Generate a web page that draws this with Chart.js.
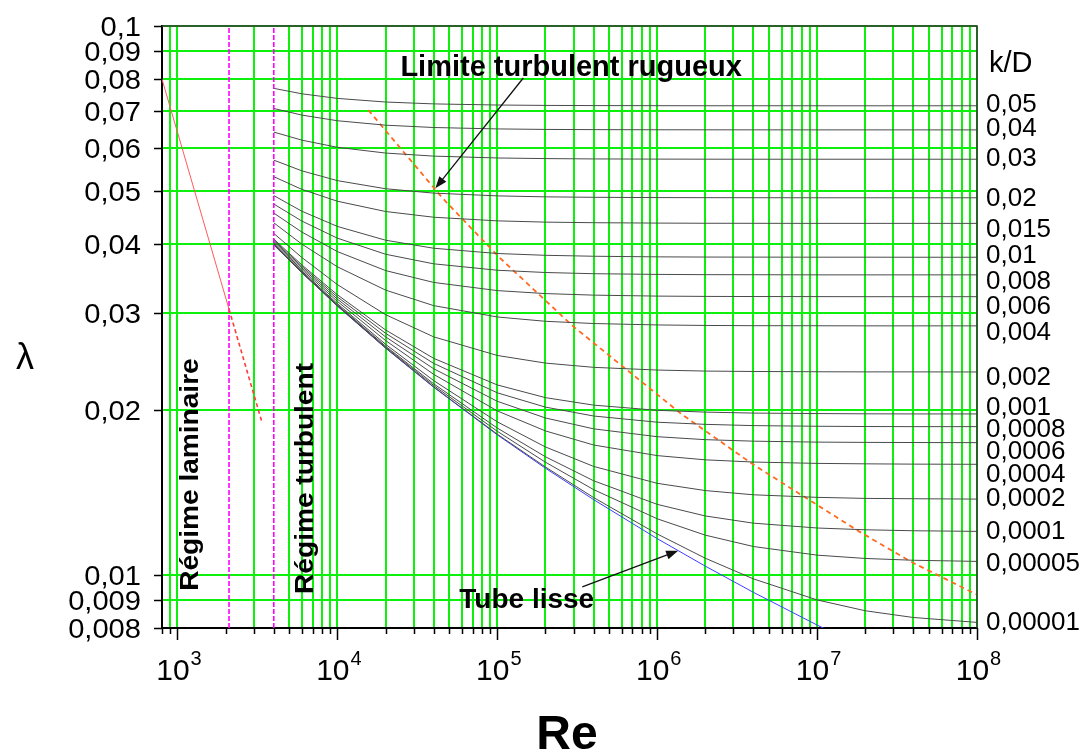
<!DOCTYPE html>
<html>
<head>
<meta charset="utf-8">
<script src="https://cdn.jsdelivr.net/npm/chart.js@4/dist/chart.umd.min.js"></script>
<style>
  html, body { margin: 0; padding: 0; background: #fff; }
  canvas { display: block; }
</style>
</head>
<body>
<canvas id="moodyChart" width="1080" height="754"></canvas>
<script>
// Reynolds numbers where the turbulent curves were read
const reValues = [4000, 6000, 1e4, 2e4, 4e4, 1e5, 2e5, 4e5, 1e6, 2e6, 4e6, 1e7, 2e7, 4e7, 1e8];

// relative roughness of each curve (right hand labels)
const kdValues = [0.05, 0.04, 0.03, 0.02, 0.015, 0.01, 0.008, 0.006, 0.004, 0.002,
                  0.001, 0.0008, 0.0006, 0.0004, 0.0002, 0.0001, 0.00005, 0.00001];

// friction factor (same order as reValues)
const lambdaKd05    = [0.07698, 0.07524, 0.07380, 0.07269, 0.07212, 0.07178, 0.07167, 0.07161, 0.07158, 0.07156, 0.07156, 0.07155, 0.07155, 0.07155, 0.07155];
const lambdaKd04    = [0.07075, 0.06881, 0.06720, 0.06596, 0.06532, 0.06493, 0.06480, 0.06474, 0.06470, 0.06469, 0.06468, 0.06467, 0.06467, 0.06467, 0.06467];
const lambdaKd03    = [0.06408, 0.06194, 0.06011, 0.05868, 0.05793, 0.05748, 0.05733, 0.05725, 0.05721, 0.05719, 0.05718, 0.05718, 0.05718, 0.05718, 0.05718];
const lambdaKd02    = [0.05696, 0.05446, 0.05227, 0.05052, 0.04960, 0.04903, 0.04883, 0.04874, 0.04868, 0.04866, 0.04865, 0.04864, 0.04864, 0.04864, 0.04864];
const lambdaKd015   = [0.05314, 0.05038, 0.04794, 0.04592, 0.04483, 0.04415, 0.04392, 0.04381, 0.04374, 0.04371, 0.04370, 0.04369, 0.04369, 0.04369, 0.04369];
const lambdaKd01    = [0.04909, 0.04597, 0.04313, 0.04071, 0.03936, 0.03850, 0.03821, 0.03806, 0.03796, 0.03793, 0.03792, 0.03791, 0.03791, 0.03790, 0.03790];
const lambdaKd008   = [0.04738, 0.04411, 0.04106, 0.03838, 0.03687, 0.03589, 0.03555, 0.03537, 0.03527, 0.03523, 0.03522, 0.03520, 0.03520, 0.03520, 0.03520];
const lambdaKd006   = [0.04561, 0.04212, 0.03881, 0.03584, 0.03410, 0.03295, 0.03254, 0.03233, 0.03220, 0.03216, 0.03214, 0.03213, 0.03212, 0.03212, 0.03212];
const lambdaKd004   = [0.04379, 0.04004, 0.03641, 0.03302, 0.03094, 0.02950, 0.02897, 0.02870, 0.02853, 0.02847, 0.02844, 0.02843, 0.02842, 0.02842, 0.02842];
const lambdaKd002   = [0.04189, 0.03785, 0.03379, 0.02979, 0.02714, 0.02510, 0.02431, 0.02388, 0.02361, 0.02351, 0.02347, 0.02344, 0.02343, 0.02343, 0.02342];
const lambdaKd001   = [0.04091, 0.03669, 0.03238, 0.02794, 0.02480, 0.02218, 0.02103, 0.02038, 0.01994, 0.01979, 0.01971, 0.01967, 0.01965, 0.01964, 0.01964];
const lambdaKd0008  = [0.04071, 0.03646, 0.03209, 0.02755, 0.02428, 0.02146, 0.02021, 0.01947, 0.01897, 0.01880, 0.01870, 0.01865, 0.01863, 0.01862, 0.01862];
const lambdaKd0006  = [0.04052, 0.03623, 0.03179, 0.02714, 0.02374, 0.02071, 0.01931, 0.01845, 0.01785, 0.01763, 0.01752, 0.01745, 0.01743, 0.01742, 0.01741];
const lambdaKd0004  = [0.04031, 0.03598, 0.03149, 0.02673, 0.02319, 0.01989, 0.01829, 0.01724, 0.01649, 0.01620, 0.01605, 0.01596, 0.01593, 0.01591, 0.01590];
const lambdaKd0002  = [0.04011, 0.03575, 0.03119, 0.02631, 0.02259, 0.01900, 0.01710, 0.01576, 0.01468, 0.01424, 0.01399, 0.01384, 0.01378, 0.01376, 0.01374];
const lambdaKd0001  = [0.04001, 0.03562, 0.03104, 0.02610, 0.02229, 0.01851, 0.01641, 0.01484, 0.01344, 0.01280, 0.01242, 0.01217, 0.01208, 0.01203, 0.01200];
const lambdaKd00005 = [0.03997, 0.03556, 0.03096, 0.02599, 0.02213, 0.01826, 0.01604, 0.01430, 0.01265, 0.01181, 0.01126, 0.01086, 0.01071, 0.01063, 0.01058];
const lambdaKd00001 = [0.03992, 0.03552, 0.03090, 0.02591, 0.02200, 0.01804, 0.01572, 0.01383, 0.01187, 0.01072, 0.00983, 0.00900, 0.00860, 0.00836, 0.00819];
const lambdaSmooth  = [0.03991, 0.03551, 0.03088, 0.02589, 0.02197, 0.01799, 0.01564, 0.01371, 0.01164, 0.01037, 0.00929, 0.00810, 0.00734, 0.00669, 0.00594];

const kdCurves = [lambdaKd05, lambdaKd04, lambdaKd03, lambdaKd02, lambdaKd015, lambdaKd01,
                  lambdaKd008, lambdaKd006, lambdaKd004, lambdaKd002, lambdaKd001, lambdaKd0008,
                  lambdaKd0006, lambdaKd0004, lambdaKd0002, lambdaKd0001, lambdaKd00005, lambdaKd00001];

// laminar flow, lambda = 64/Re (solid part then dashed continuation)
const laminarRe = [800, 2100];
const laminarLambda = [0.08, 0.03048];
const laminarDashRe = [2100, 3350];
const laminarDashLambda = [0.03048, 0.0191];

// regime boundaries (vertical magenta lines)
const criticalRe = [2100, 4000];

// "limite turbulent rugueux" dashed line
const limitRe = [15600, 45343, 102733, 296595, 1427000, 3965000, 18265000, 38952000, 1e8];
const limitLambda = [0.0703, 0.0486, 0.0379, 0.0284, 0.0196, 0.0159, 0.0120, 0.01055, 0.0092];

// axes
const reMin = 800, reMax = 1e8;
const lambdaMin = 0.008, lambdaMax = 0.1;
const lambdaTicks = [0.1, 0.09, 0.08, 0.07, 0.06, 0.05, 0.04, 0.03, 0.02, 0.01, 0.009, 0.008];
const reDecades = [1e3, 1e4, 1e5, 1e6, 1e7, 1e8];
const reHiddenGrid = [2000, 4000];

// small vertical nudges (px) so the k/D labels do not collide
const kdLabelNudge = [-3.5, -3.5, -3, -1.5, 4, -4, 4.5, 8, 4.5, 3.5, -8, 1, 7, 8, -2, -2, 0, -1.5];

// annotations, anchored in data units
const limitArrow = { from: [145400, 0.0804], to: [40980, 0.0506] };
const smoothArrow = { from: [340000, 0.00951], to: [1352000, 0.01106] };
const limitText = { re: 24770, lambda: 0.0811 };
const smoothText = { re: 57870, lambda: 0.0087 };
const laminarText = { re: 1334, lambda: 0.00935 };
const turbulentText = { re: 7079, lambda: 0.00923 };

// minor + major Re grid positions
const reGrid = [];
for (let e = 2; e <= 8; e++) {
    for (let m = 1; m <= 9; m++) {
        const v = m * Math.pow(10, e);
        if (v >= reMin - 1 && v <= reMax + 1) reGrid.push(Math.round(v));
    }
}

const GREEN = '#0cf00c';
const FONT = "'Liberation Sans', Arial, Helvetica, sans-serif";

function toPoints(xs, ys) {
    return xs.map((v, i) => ({ x: v, y: ys[i] }));
}

function line(data, color, width, dash) {
    return {
        data: data,
        showLine: true,
        borderColor: color,
        borderWidth: width,
        borderDash: dash || [],
        pointRadius: 0,
        fill: false,
        tension: 0
    };
}

const datasets = [];
datasets.push(line(toPoints(laminarRe, laminarLambda), '#ff5a5a', 1));
datasets.push(line(toPoints(laminarDashRe, laminarDashLambda), '#ff3c3c', 1.6, [4, 3]));
criticalRe.forEach(r => {
    datasets.push(line([{ x: r, y: lambdaMin }, { x: r, y: lambdaMax }], '#ff00ff', 1.6, [5, 2]));
});
kdCurves.forEach(arr => {
    datasets.push(line(toPoints(reValues, arr), '#4a4a4a', 1));
});
datasets.push(line(toPoints(reValues, lambdaSmooth), '#3c3cff', 1));
datasets.push(line(toPoints(limitRe, limitLambda), '#ff6a20', 1.8, [5, 4]));

function drawText(ctx, str, x, y, opt) {
    ctx.save();
    ctx.translate(x, y);
    if (opt.rot) ctx.rotate(opt.rot);
    ctx.scale(opt.sx || 1, 1);
    ctx.font = (opt.bold ? 'bold ' : '') + opt.size + 'px ' + FONT;
    ctx.textAlign = opt.align || 'left';
    ctx.textBaseline = 'alphabetic';
    ctx.fillStyle = '#000';
    ctx.fillText(str, 0, 0);
    ctx.restore();
}

function drawArrow(ctx, x0, y0, x1, y1) {
    const ang = Math.atan2(y1 - y0, x1 - x0);
    const len = 12, half = 4.5;
    ctx.save();
    ctx.strokeStyle = '#111';
    ctx.fillStyle = '#111';
    ctx.lineWidth = 1.3;
    ctx.beginPath();
    ctx.moveTo(x0, y0);
    ctx.lineTo(x1 - Math.cos(ang) * len * 0.8, y1 - Math.sin(ang) * len * 0.8);
    ctx.stroke();
    ctx.beginPath();
    ctx.moveTo(x1, y1);
    ctx.lineTo(x1 - Math.cos(ang) * len - Math.sin(ang) * half, y1 - Math.sin(ang) * len + Math.cos(ang) * half);
    ctx.lineTo(x1 - Math.cos(ang) * len + Math.sin(ang) * half, y1 - Math.sin(ang) * len - Math.cos(ang) * half);
    ctx.closePath();
    ctx.fill();
    ctx.restore();
}

const moodyDecor = {
    id: 'moodyDecor',
    afterDraw(chart) {
        const ctx = chart.ctx;
        const a = chart.chartArea;
        const x = chart.scales.x;
        const y = chart.scales.y;

        // top and right frame
        ctx.save();
        ctx.strokeStyle = '#333';
        ctx.lineWidth = 1.5;
        ctx.beginPath();
        ctx.moveTo(a.left, a.top);
        ctx.lineTo(a.right, a.top);
        ctx.lineTo(a.right, a.bottom);
        ctx.stroke();

        // tick marks
        ctx.strokeStyle = '#000';
        ctx.lineWidth = 1.5;
        ctx.beginPath();
        lambdaTicks.forEach(v => {
            const py = Math.round(y.getPixelForValue(v)) + 0.5;
            ctx.moveTo(a.left - 8, py);
            ctx.lineTo(a.left, py);
        });
        reGrid.forEach(v => {
            const px = Math.round(x.getPixelForValue(v)) + 0.5;
            const major = reDecades.includes(v);
            ctx.moveTo(px, a.bottom);
            ctx.lineTo(px, a.bottom + (major ? 12 : 6));
        });
        ctx.stroke();
        ctx.restore();

        // lambda tick labels
        lambdaTicks.forEach(v => {
            const py = y.getPixelForValue(v);
            drawText(ctx, String(v).replace('.', ','), a.left - 21, py + 10, { size: 28, align: 'right', sx: 1.04 });
        });

        // Re tick labels 10^n
        reDecades.forEach(v => {
            const px = x.getPixelForValue(v);
            const exp = String(Math.round(Math.log10(v)));
            ctx.save();
            ctx.font = '30px ' + FONT;
            const wBase = ctx.measureText('10').width;
            ctx.font = '20px ' + FONT;
            const wExp = ctx.measureText(exp).width;
            ctx.restore();
            const start = px - (wBase + wExp) / 2 + 1;
            drawText(ctx, '10', start, a.bottom + 52, { size: 30 });
            drawText(ctx, exp, start + wBase + 1, a.bottom + 37, { size: 20 });
        });

        // axis titles
        drawText(ctx, 'λ', 25, 369, { size: 36, align: 'center' });
        drawText(ctx, 'Re', 567, 749, { size: 48, bold: true, align: 'center' });
        drawText(ctx, 'k/D', a.right + 12, 72, { size: 29 });

        // k/D labels on the right
        kdValues.forEach((k, i) => {
            const curve = kdCurves[i];
            const py = y.getPixelForValue(curve[curve.length - 1]) + kdLabelNudge[i];
            drawText(ctx, String(k).replace('.', ','), a.right + 9, py + 9.3, { size: 26 });
        });

        // regime labels
        drawText(ctx, 'Régime laminaire', x.getPixelForValue(laminarText.re), y.getPixelForValue(laminarText.lambda),
            { size: 26, bold: true, rot: -Math.PI / 2, sx: 1.08 });
        drawText(ctx, 'Régime turbulent', x.getPixelForValue(turbulentText.re), y.getPixelForValue(turbulentText.lambda),
            { size: 26, bold: true, rot: -Math.PI / 2, sx: 1.08 });

        // annotations with arrows
        drawText(ctx, 'Limite turbulent rugueux', x.getPixelForValue(limitText.re), y.getPixelForValue(limitText.lambda),
            { size: 29, bold: true });
        drawText(ctx, 'Tube lisse', x.getPixelForValue(smoothText.re), y.getPixelForValue(smoothText.lambda),
            { size: 28, bold: true });
        drawArrow(ctx,
            x.getPixelForValue(limitArrow.from[0]), y.getPixelForValue(limitArrow.from[1]),
            x.getPixelForValue(limitArrow.to[0]), y.getPixelForValue(limitArrow.to[1]));
        drawArrow(ctx,
            x.getPixelForValue(smoothArrow.from[0]), y.getPixelForValue(smoothArrow.from[1]),
            x.getPixelForValue(smoothArrow.to[0]), y.getPixelForValue(smoothArrow.to[1]));
    }
};

const ctx = document.getElementById('moodyChart').getContext('2d');
new Chart(ctx, {
    type: 'scatter',
    data: { datasets: datasets },
    options: {
        responsive: false,
        animation: false,
        devicePixelRatio: 1,
        layout: { padding: { left: 162, right: 103, top: 26, bottom: 126 } },
        plugins: {
            legend: { display: false },
            tooltip: { enabled: false }
        },
        scales: {
            x: {
                type: 'logarithmic',
                min: reMin,
                max: reMax,
                z: 1,
                afterBuildTicks: (scale) => { scale.ticks = reGrid.map(v => ({ value: v })); },
                ticks: { display: false },
                grid: {
                    drawTicks: false,
                    lineWidth: 2,
                    color: (c) => (c.tick && reHiddenGrid.includes(c.tick.value)) ? 'rgba(0,0,0,0)' : GREEN
                },
                border: { display: true, color: '#000', width: 2 }
            },
            y: {
                type: 'logarithmic',
                min: lambdaMin,
                max: lambdaMax,
                z: 1,
                afterBuildTicks: (scale) => { scale.ticks = lambdaTicks.map(v => ({ value: v })); },
                ticks: { display: false },
                grid: { drawTicks: false, lineWidth: 2, color: GREEN },
                border: { display: true, color: '#000', width: 2 }
            }
        }
    },
    plugins: [moodyDecor]
});
</script>
</body>
</html>
